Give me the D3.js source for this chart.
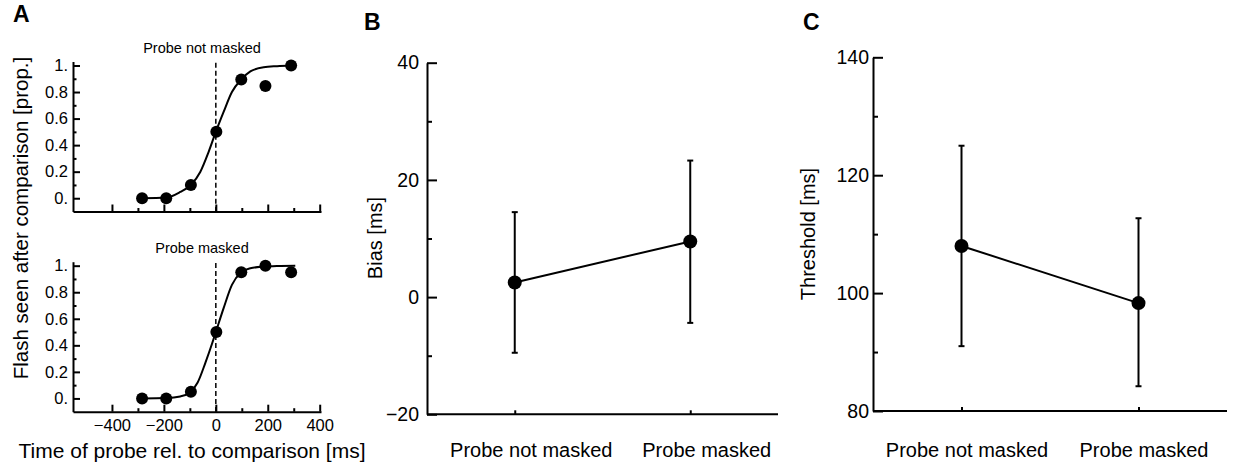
<!DOCTYPE html>
<html>
<head>
<meta charset="utf-8">
<script src="https://cdn.jsdelivr.net/npm/d3@7"></script>
<style>
    body { margin: 0; background: #fff; }
    svg { display: block; font-family: 'Liberation Sans', Arial, Helvetica, sans-serif; }
    .axis path, .axis line { stroke: #000; stroke-width: 2; }
    .axis text { fill: #000; }
</style>
</head>
<body>
<div id="chart"></div>
<script>
// Panel A: psychometric data (time of probe relative to comparison, ms)
const soaValues = [-284, -191, -96, 2, 98, 191, 290];
const propNotMasked = [0, 0, 0.1, 0.5, 0.895, 0.845, 1.0];
const propMasked = [0, 0, 0.05, 0.5, 0.95, 1.0, 0.95];

// fitted curves
const fitXNotMasked = [-284, -191, -137, -96, -60, -28, 0, 30, 62, 98, 133, 184, 236, 290];
const fitYNotMasked = [0, 0.005, 0.047, 0.1, 0.198, 0.348, 0.5, 0.65, 0.8, 0.895, 0.955, 0.987, 0.995, 1.0];
const fitXMasked = [-284, -191, -137, -100, -70, -40, -15, 0, 30, 62, 98, 133, 184, 236, 306];
const fitYMasked = [0, 0.003, 0.015, 0.045, 0.12, 0.27, 0.41, 0.5, 0.68, 0.855, 0.95, 0.98, 0.993, 0.998, 1.0];

const xTicksA = [-400, -200, 0, 200, 400];
const xMinorA = [-300, -100, 100, 300];
const yTicksA = [0, 0.2, 0.4, 0.6, 0.8, 1.0];
const yMinorA = [0.1, 0.3, 0.5, 0.7, 0.9];

// Panels B and C
const conditions = ['Probe not masked', 'Probe masked'];
const biasMean = [2.5, 9.5];
const biasLow = [-9.5, -4.4];
const biasHigh = [14.5, 23.3];
const biasTicks = [-20, 0, 20, 40];
const biasMinor = [-10, 10, 30];

const thresholdMean = [108, 98.3];
const thresholdLow = [91, 84.2];
const thresholdHigh = [125, 112.7];
const thresholdTicks = [80, 100, 120, 140];
const thresholdMinor = [90, 110, 130];

const W = 1236, H = 464;
const svg = d3.select('#chart').append('svg')
    .attr('width', W)
    .attr('height', H);

const fmtMinus = d => (d < 0 ? '\u2212' + Math.abs(d) : String(d));
const fmtProp = d => (d === 0 ? '0.' : d === 1 ? '1.' : d.toFixed(1));

// ---------- Panel A ----------
const xA = d3.scaleLinear().domain([-550, 405]).range([73, 321]);

function psychoPanel(top, bottom, title, props, fitX, fitY, showXLabels) {
    const y = d3.scaleLinear().domain([-0.1, 1.03]).range([bottom, top]);
    const g = svg.append('g');

    // minor ticks
    g.append('g').attr('class', 'axis')
        .attr('transform', `translate(0,${bottom})`)
        .call(d3.axisBottom(xA).tickValues(xMinorA).tickSize(-3.5).tickSizeOuter(0).tickFormat(''))
        .call(s => s.select('.domain').remove());
    g.append('g').attr('class', 'axis')
        .attr('transform', `translate(${xA.range()[0]},0)`)
        .call(d3.axisLeft(y).tickValues(yMinorA).tickSize(-3.5).tickSizeOuter(0).tickFormat(''))
        .call(s => s.select('.domain').remove());

    const xAxis = g.append('g').attr('class', 'axis')
        .attr('transform', `translate(0,${bottom})`)
        .call(d3.axisBottom(xA).tickValues(xTicksA).tickSize(-7).tickSizeOuter(0)
            .tickPadding(8).tickFormat(showXLabels ? fmtMinus : ''));
    xAxis.selectAll('text').style('font-size', '16.5px');

    const yAxis = g.append('g').attr('class', 'axis')
        .attr('transform', `translate(${xA.range()[0]},0)`)
        .call(d3.axisLeft(y).tickValues(yTicksA).tickSize(-7).tickSizeOuter(0)
            .tickPadding(5).tickFormat(fmtProp));
    yAxis.selectAll('text').style('font-size', '16.5px');

    // dashed line at zero
    g.append('line')
        .attr('x1', xA(0)).attr('x2', xA(0))
        .attr('y1', y(1.02)).attr('y2', y(-0.1))
        .attr('stroke', '#000')
        .attr('stroke-width', 1.5)
        .attr('stroke-dasharray', '5,3');

    const fit = fitX.map((d, i) => [d, fitY[i]]);
    g.append('path')
        .datum(fit)
        .attr('fill', 'none')
        .attr('stroke', '#000')
        .attr('stroke-width', 2)
        .attr('d', d3.line().x(d => xA(d[0])).y(d => y(d[1])).curve(d3.curveMonotoneX));

    g.selectAll('circle.pt')
        .data(props)
        .enter().append('circle')
        .attr('class', 'pt')
        .attr('cx', (d, i) => xA(soaValues[i]))
        .attr('cy', d => y(d))
        .attr('r', 6)
        .attr('fill', '#000');

    g.append('text')
        .attr('x', 202)
        .attr('y', top - 9)
        .attr('text-anchor', 'middle')
        .style('font-size', '14.5px')
        .text(title);
}

psychoPanel(61.5, 211.5, 'Probe not masked', propNotMasked, fitXNotMasked, fitYNotMasked, false);
psychoPanel(261.7, 411.7, 'Probe masked', propMasked, fitXMasked, fitYMasked, true);

svg.append('text')
    .attr('transform', 'translate(28,218) rotate(-90)')
    .attr('text-anchor', 'middle')
    .style('font-size', '20.5px')
    .text('Flash seen after comparison [prop.]');

svg.append('text')
    .attr('x', 192)
    .attr('y', 458)
    .attr('text-anchor', 'middle')
    .style('font-size', '21px')
    .text('Time of probe rel. to comparison [ms]');

// ---------- Panels B and C ----------
function summaryPanel(opts) {
    const x = d3.scalePoint().domain(conditions).range([opts.left, opts.right]).padding(0.5);
    const y = d3.scaleLinear().domain(opts.domain).range([opts.bottom, opts.top]);
    const g = svg.append('g');

    g.append('g').attr('class', 'axis')
        .attr('transform', `translate(${opts.left},0)`)
        .call(d3.axisLeft(y).tickValues(opts.minor).tickSize(-5).tickSizeOuter(0).tickFormat(''))
        .call(s => s.select('.domain').remove());

    const yAxis = g.append('g').attr('class', 'axis')
        .attr('transform', `translate(${opts.left},0)`)
        .call(d3.axisLeft(y).tickValues(opts.ticks).tickSize(-10).tickSizeOuter(0)
            .tickPadding(opts.labelPad).tickFormat(fmtMinus));
    yAxis.selectAll('text').style('font-size', '19.5px');

    const xAxis = g.append('g').attr('class', 'axis')
        .attr('transform', `translate(0,${opts.bottom})`)
        .call(d3.axisBottom(x).tickSize(-4).tickSizeOuter(0).tickPadding(0));
    xAxis.select('.domain').attr('d', `M${opts.left},0H${opts.right}`);
    xAxis.selectAll('text')
        .style('font-size', '20px')
        .attr('dx', opts.labelShift)
        .attr('y', 457 - opts.bottom)
        .attr('dy', 0);

    // error bars
    conditions.forEach((c, i) => {
        const cx = x(c);
        g.append('line')
            .attr('x1', cx).attr('x2', cx)
            .attr('y1', y(opts.low[i])).attr('y2', y(opts.high[i]))
            .attr('stroke', '#000').attr('stroke-width', 2);
        [opts.low[i], opts.high[i]].forEach(v => {
            g.append('line')
                .attr('x1', cx - 3).attr('x2', cx + 3)
                .attr('y1', y(v)).attr('y2', y(v))
                .attr('stroke', '#000').attr('stroke-width', 2);
        });
    });

    g.append('path')
        .datum(opts.mean)
        .attr('fill', 'none')
        .attr('stroke', '#000')
        .attr('stroke-width', 2)
        .attr('d', d3.line().x((d, i) => x(conditions[i])).y(d => y(d)));

    g.selectAll('circle.pt')
        .data(opts.mean)
        .enter().append('circle')
        .attr('class', 'pt')
        .attr('cx', (d, i) => x(conditions[i]))
        .attr('cy', d => y(d))
        .attr('r', 7)
        .attr('fill', '#000');

    svg.append('text')
        .attr('transform', `translate(${opts.titleX},${opts.titleY}) rotate(-90)`)
        .attr('text-anchor', 'middle')
        .style('font-size', '20px')
        .text(opts.title);
}

summaryPanel({
    left: 427, right: 778, top: 62.7, bottom: 414.3,
    domain: [-20, 40], ticks: biasTicks, minor: biasMinor,
    mean: biasMean, low: biasLow, high: biasHigh,
    title: 'Bias [ms]', titleX: 382, titleY: 238,
    labelPad: 8, labelShift: 16
});

summaryPanel({
    left: 873, right: 1227, top: 57.3, bottom: 411,
    domain: [80, 140], ticks: thresholdTicks, minor: thresholdMinor,
    mean: thresholdMean, low: thresholdLow, high: thresholdHigh,
    title: 'Threshold [ms]', titleX: 815, titleY: 234,
    labelPad: 4, labelShift: 5
});

// panel letters
[['A', 13, 22], ['B', 364, 30], ['C', 803, 30]].forEach(([t, x, y]) => {
    svg.append('text')
        .attr('x', x).attr('y', y)
        .style('font-size', '23px')
        .style('font-weight', 'bold')
        .text(t);
});
</script>
</body>
</html>
